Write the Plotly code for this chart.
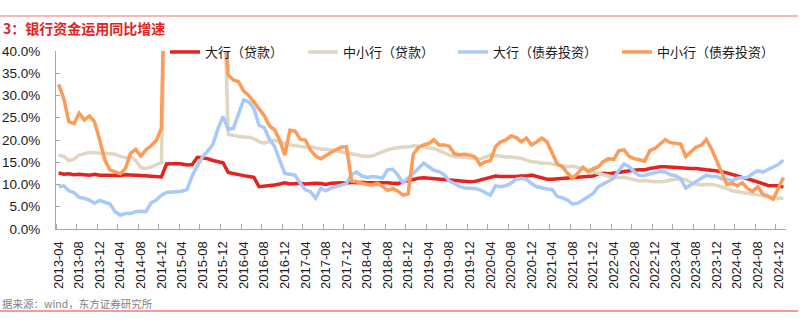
import plotly.graph_objects as go

# ---- data (monthly, 2013-04 .. 2025-01), values in % ----
months = [f"{y}-{m:02d}" for y in range(2013, 2026) for m in range(1, 13)]
months = months[months.index("2013-04"):months.index("2025-01") + 1]

big_loan = [12.6, 12.3, 12.4, 12.2, 12.3, 12.2, 12.1, 12.3, 12.1, 12.1, 12.1, 12.0, 12.0, 12.2, 12.2, 12.1, 12.0, 11.9, 11.8, 11.7, 11.7,
            14.6, 14.7, 14.7, 14.6, 14.4, 14.5, 16.1, 16.0, 15.8, 15.4, 15.1, 14.9,
            12.7, 12.4, 12.2, 12.0, 11.8, 11.6, 9.5, 9.6, 9.7, 9.9, 10.1, 10.4, 10.1, 10.2, 10.3, 10.1, 10.2, 10.3, 10.2, 10.0,
            10.3, 10.4, 10.4, 10.3, 10.5, 10.4, 10.5, 10.4, 10.4, 10.5, 10.5, 10.4, 10.3, 10.2, 10.6,
            10.9, 11.1, 11.4, 11.5, 11.4, 11.2, 11.1, 11.1, 11.0, 10.9, 10.8, 10.7, 10.6, 10.7, 11.0, 11.5, 11.8, 11.9, 11.8,
            11.8, 11.7, 11.8, 11.9, 11.9, 12.1, 11.8, 11.5, 11.2, 11.2, 11.3, 11.4, 11.5, 11.5, 11.6, 11.7, 11.8, 11.9,
            12.4, 12.5, 12.4, 12.5, 12.7, 12.9, 13.1, 13.2, 13.3, 13.3, 13.6, 13.9, 14.0, 14.0, 13.9, 13.8, 13.7, 13.7, 13.6,
            13.6, 13.4, 13.3, 13.2, 13.1, 12.9, 12.6, 12.2, 11.9, 11.6, 11.3, 11.0, 10.6, 10.2, 9.8, 9.7, 9.7, 9.4]

small_loan = [16.6, 16.3, 15.4, 15.7, 16.6, 17.0, 17.2, 17.2, 17.0, 17.0, 16.9, 16.8, 16.3, 16.0, 16.3, 15.4, 13.8, 13.6, 13.9, 14.4, 14.9,
              72.0, 70.0, 69.0, 67.0, 66.0, 65.0, 64.0, 63.0, 62.0, 61.0, 60.0, 60.0,
              21.3, 21.0, 20.8, 20.7, 20.6, 20.3, 19.6, 19.3, 19.6, 20.0, 19.5, 19.3, 18.9, 18.7, 18.5, 18.4, 18.4, 18.1, 18.0,
              17.9, 17.7, 17.5, 17.3, 17.2, 17.0, 16.7, 16.4, 16.3, 16.4, 16.9, 17.4, 17.8, 18.1, 18.3, 18.4,
              18.4, 18.7, 18.6, 18.5, 18.2, 18.1, 17.6, 17.0, 16.6, 16.3, 16.2, 16.1, 16.1, 15.9, 15.7, 16.1, 16.6, 16.5, 16.3,
              16.2, 16.2, 16.1, 15.9, 15.5, 15.1, 15.0, 14.8, 14.8, 14.6, 14.3, 14.1, 14.0, 14.1, 13.9, 13.6, 13.2, 12.8,
              12.5, 12.2, 11.9, 11.6, 11.5, 11.6, 11.3, 11.0, 10.8, 10.9, 10.7, 10.6, 10.6, 10.7, 11.0, 11.2, 11.3, 11.1, 10.4,
              10.1, 9.9, 10.0, 10.0, 9.8, 9.5, 9.1, 8.6, 8.4, 8.3, 8.0, 7.8, 7.7, 7.4, 7.2, 7.0, 6.9, 6.9]

big_bond = [9.5, 9.7, 8.6, 8.2, 7.1, 6.9, 6.5, 5.8, 6.4, 5.9, 5.6, 3.9, 3.1, 3.5, 3.5, 3.9, 4.0, 3.9, 5.9, 6.5, 7.6,
            8.2, 8.3, 8.4, 8.5, 8.9, 12.0, 14.2, 16.2, 17.5, 19.0, 22.5, 25.3,
            22.4, 22.6, 25.8, 29.0, 28.6, 27.0, 23.3, 22.8, 20.2, 18.6, 15.5, 12.5, 12.3, 12.1, 10.3, 8.8, 8.4, 6.9, 9.1, 8.6,
            9.2, 9.6, 10.0, 10.2, 12.3, 12.8, 11.9, 11.6, 11.8, 11.7, 11.4, 13.3, 13.4, 12.1, 10.4,
            11.4, 12.5, 13.6, 14.8, 14.0, 13.2, 12.9, 12.2, 10.8, 10.1, 9.6, 9.2, 9.2, 9.1, 8.8, 8.2, 7.6, 9.7, 9.5,
            9.7, 10.3, 11.2, 11.4, 11.2, 10.2, 9.5, 9.2, 9.0, 8.9, 7.3, 7.0, 6.5, 5.6, 5.8, 6.5, 7.3, 8.0,
            9.5, 10.1, 10.6, 11.4, 13.2, 14.6, 14.0, 12.8, 12.0, 12.0, 12.4, 12.7, 12.9, 12.8, 12.2, 12.0, 11.3, 9.2, 9.9,
            10.8, 11.4, 12.1, 11.8, 11.8, 11.3, 11.2, 10.8, 11.4, 11.5, 11.6, 12.4, 13.1, 12.8, 13.4, 14.0, 14.5, 15.5]

small_bond = [32.5, 29.4, 24.1, 23.7, 26.0, 24.5, 25.4, 24.1, 20.0, 15.5, 13.3, 12.9, 12.4, 13.6, 17.0, 17.9, 16.4, 17.8, 18.7, 19.9, 22.6,
              80.0, 76.0, 72.0, 69.0, 66.0, 63.0, 61.0, 59.0, 57.0, 55.0, 52.0, 49.0,
              34.6, 33.5, 33.1, 31.0, 30.0, 28.5, 27.0, 25.5, 23.2, 22.3, 20.0, 16.6, 22.2, 22.0, 20.2, 20.0, 17.8, 16.4, 15.8,
              16.6, 17.2, 17.8, 18.4, 18.4, 10.8, 10.6, 10.2, 10.0, 9.9, 10.3, 9.6, 8.7, 9.1, 8.5, 7.6, 7.9,
              16.8, 18.3, 18.9, 19.2, 20.1, 18.9, 18.9, 18.6, 16.9, 16.7, 16.8, 16.6, 16.2, 14.4, 15.1, 15.4, 18.5, 19.6,
              20.0, 20.9, 20.6, 19.6, 20.4, 18.9, 19.6, 20.4, 19.6, 17.0, 14.6, 14.0, 12.5, 11.4, 12.5, 13.9, 12.9, 13.6,
              14.0, 15.2, 15.8, 15.6, 17.6, 17.8, 16.3, 15.8, 15.6, 15.2, 17.6, 18.1, 19.0, 20.1, 19.4, 19.2, 19.1, 16.3, 17.3,
              18.4, 18.8, 20.1, 18.0, 15.4, 12.7, 10.0, 10.3, 9.7, 10.4, 9.1, 8.4, 9.5, 7.8, 7.4, 6.7, 9.0, 11.6]

series_names = ["大行（贷款）", "中小行（贷款）", "大行（债券投资）", "中小行（债券投资）"]
series_colors = ["#e2231f", "#e0d7c3", "#a9c9fb", "#fd9b57"]
series_values = [big_loan, small_loan, big_bond, small_bond]

y_ticks = [0, 5, 10, 15, 20, 25, 30, 35, 40]
x_tick_labels = months[::4]

# ---- layout geometry (pixels) ----
W, H = 811, 322
L, R, T, B = 56, 25, 51, 93
pw, ph = W - L - R, H - T - B


def px_x(p):
    return (p - L) / pw


def px_y(p):
    return (H - B - p) / ph


idx = list(range(len(months)))

fig = go.Figure()
legend_px = [165, 303, 453, 617]
for k, (name, col, vals) in enumerate(zip(series_names, series_colors, series_values)):
    lg = "legend" if k == 0 else f"legend{k + 1}"
    fig.add_trace(go.Scatter(
        x=idx, y=vals, mode="lines", name=name,
        line=dict(color=col, width=3.5),
        customdata=months, hovertemplate="%{customdata}: %{y:.1f}%<extra>" + name + "</extra>",
        legend=lg,
    ))

legend_font = dict(family="Noto Sans CJK SC", size=13, color="#1a1a1a")
for k, lp in enumerate(legend_px):
    key = "legend" if k == 0 else f"legend{k + 1}"
    fig.layout[key] = dict(
        x=px_x(lp), y=px_y(52), xanchor="left", yanchor="middle",
        orientation="h", font=legend_font, bgcolor="rgba(0,0,0,0)",
        borderwidth=0, itemwidth=30,
    )

axis_gray = "#a6a6a6"
fig.update_layout(
    width=W, height=H,
    margin=dict(l=L, r=R, t=T, b=B, pad=0, autoexpand=False),
    paper_bgcolor="white", plot_bgcolor="white",
    showlegend=True,
    xaxis=dict(
        range=[-0.5, len(months) - 0.5], automargin=False,
        tickmode="array", tickvals=idx[::4], ticktext=x_tick_labels,
        tickangle=-90, ticks="", showgrid=False, zeroline=False,
        showline=True, linecolor=axis_gray, linewidth=1,
        tickfont=dict(family="Liberation Sans", size=13, color="#1a1a1a"),
        ticklabelstandoff=6,
        minor=dict(tickmode="linear", tick0=-0.5, dtick=4, ticks="inside",
                   ticklen=5, tickcolor=axis_gray, tickwidth=1, showgrid=False),
    ),
    yaxis=dict(
        range=[0, 40], automargin=False,
        tickmode="array", tickvals=y_ticks, ticktext=[f"{v:.1f}%" for v in y_ticks],
        ticks="inside", ticklen=4, tickcolor=axis_gray,
        showgrid=False, zeroline=False,
        showline=True, linecolor=axis_gray, linewidth=1,
        tickfont=dict(family="Liberation Sans", size=13.5, color="#1a1a1a"),
        ticklabelstandoff=12,
    ),
)

fig.add_annotation(text="<b>3：银行资金运用同比增速</b>", xref="paper", yref="paper",
                   x=px_x(1), y=px_y(28), xanchor="left", yanchor="middle", showarrow=False,
                   font=dict(family="Noto Sans CJK SC", size=14, color="#e2231f"))
fig.add_annotation(text="据来源：wind，东方证券研究所", xref="paper", yref="paper",
                   x=px_x(0), y=px_y(303), xanchor="left", yanchor="middle", showarrow=False,
                   font=dict(family="Noto Sans CJK SC", size=10.5, color="#7f7f7f"))

fig.add_shape(type="line", xref="paper", yref="paper", x0=px_x(0), x1=px_x(798),
              y0=px_y(16), y1=px_y(16), line=dict(color="#f0a3a3", width=1.5))
fig.add_shape(type="line", xref="paper", yref="paper", x0=px_x(0), x1=px_x(798),
              y0=px_y(311), y1=px_y(311), line=dict(color="#e33b3b", width=1))

fig.write_html("out.html")
